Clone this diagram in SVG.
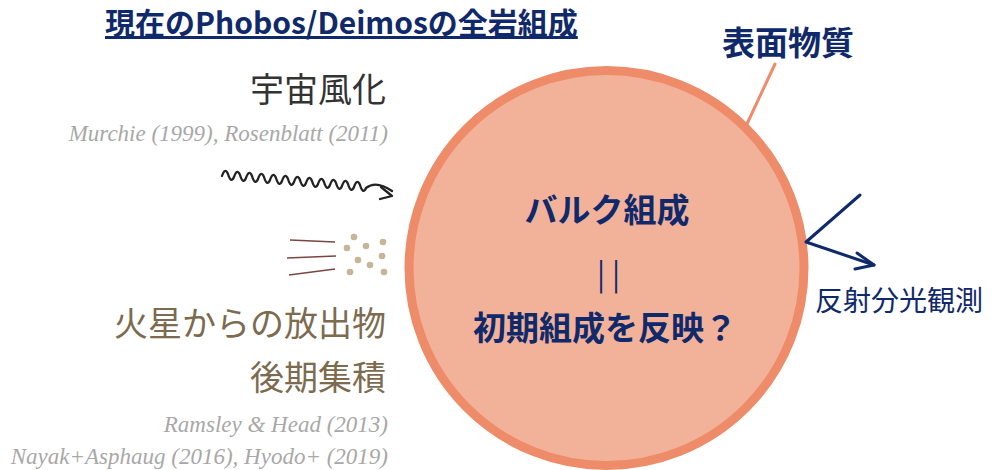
<svg xmlns="http://www.w3.org/2000/svg" width="1000" height="470" viewBox="0 0 1000 470">
<style>
.jp{font-family:"Noto Sans CJK JP","Noto Sans",sans-serif}
.navy{fill:#10296A}
.b{font-weight:bold}
.ref{font-family:"Liberation Serif",serif;font-style:italic;fill:#A8A8A8;font-size:23px}
.gray{fill:#333333}
.tan{fill:#7C6B4F}
.dot{fill:#C5B698}
.streak{stroke:#7A4545;stroke-width:1.3;fill:none}
</style>
<rect width="1000" height="470" fill="#FFFFFF"/>
<g id="title">
<text class="jp navy b" x="105" y="34" font-size="30" text-decoration="underline">現在のPhobos/Deimosの全岩組成</text>
</g>
<g id="body">
<circle cx="606.5" cy="268" r="197.5" fill="#F2B29A" stroke="#EE8B69" stroke-width="9"/>
<text class="jp navy b" x="607" y="222" font-size="33" text-anchor="middle">バルク組成</text>
<text class="jp navy" x="612" y="285" font-size="30" text-anchor="middle" letter-spacing="7">||</text>
<text class="jp navy b" x="605" y="340" font-size="33" text-anchor="middle">初期組成を反映？</text>
</g>
<g id="surface">
<text class="jp navy b" x="788" y="55" font-size="33" text-anchor="middle">表面物質</text>
</g>
<g id="weathering">
<text class="jp gray" x="386" y="102" font-size="34" text-anchor="end">宇宙風化</text>
<text class="ref" x="388" y="141" text-anchor="end">Murchie (1999), Rosenblatt (2011)</text>
</g>
<g id="ejecta">
<text class="jp tan" x="386" y="336" font-size="34" text-anchor="end">火星からの放出物</text>
<text class="jp tan" x="386" y="390" font-size="34" text-anchor="end">後期集積</text>
<text class="ref" x="388" y="432" text-anchor="end">Ramsley &amp; Head (2013)</text>
<text class="ref" x="388" y="464" text-anchor="end">Nayak+Asphaug (2016), Hyodo+ (2019)</text>
<line class="streak" x1="290" y1="240" x2="335" y2="242"/>
<line class="streak" x1="287" y1="258" x2="336" y2="256"/>
<line class="streak" x1="289" y1="275" x2="335" y2="269"/>
<circle class="dot" cx="354" cy="237" r="3.3"/>
<circle class="dot" cx="383" cy="242" r="3.3"/>
<circle class="dot" cx="347" cy="248" r="3.3"/>
<circle class="dot" cx="366" cy="246" r="3.3"/>
<circle class="dot" cx="382" cy="256" r="3.3"/>
<circle class="dot" cx="358" cy="260" r="3.3"/>
<circle class="dot" cx="370" cy="265" r="3.3"/>
<circle class="dot" cx="350" cy="272" r="3.3"/>
<circle class="dot" cx="384" cy="272" r="3.3"/>
</g>
<g id="spectro">
<text class="jp navy" x="815" y="311" font-size="28">反射分光観測</text>
</g>
<g id="connectors" fill="none" stroke-linecap="round" stroke-linejoin="round">
<line x1="775" y1="64" x2="746" y2="126" stroke="#EE8B69" stroke-width="3"/>
<polyline points="860,195 806,242 874,265" stroke="#10296A" stroke-width="3"/>
<polyline points="857,253 874,265 855,269" stroke="#10296A" stroke-width="3"/>
<path d="M222,176 q3,-9 6,-2 q3,10 6,3 q3,-9 6,-2 q3,10 6,3 q3,-9 6,-2 q3,10 6,3 q3,-9 6,-2 q3,10 6,3 q3,-9 6,-2 q3,10 6,3 q3,-9 6,-2 q3,10 6,3 q3,-9 6,-2 q3,10 6,3 q3,-9 6,-2 q3,10 6,3 q3,-9 6,-2 q3,10 6,3 q3,-9 6,-2 q3,10 6,3 q3,-9 6,-2 q3,10 6,3 q3,-9 6,-2 q3,10 6,3 q10,-8 26,3" stroke="#222222" stroke-width="2.3"/>
<polyline points="381,187 392,196 380,199" stroke="#222222" stroke-width="2.3"/>
</g>
</svg>
